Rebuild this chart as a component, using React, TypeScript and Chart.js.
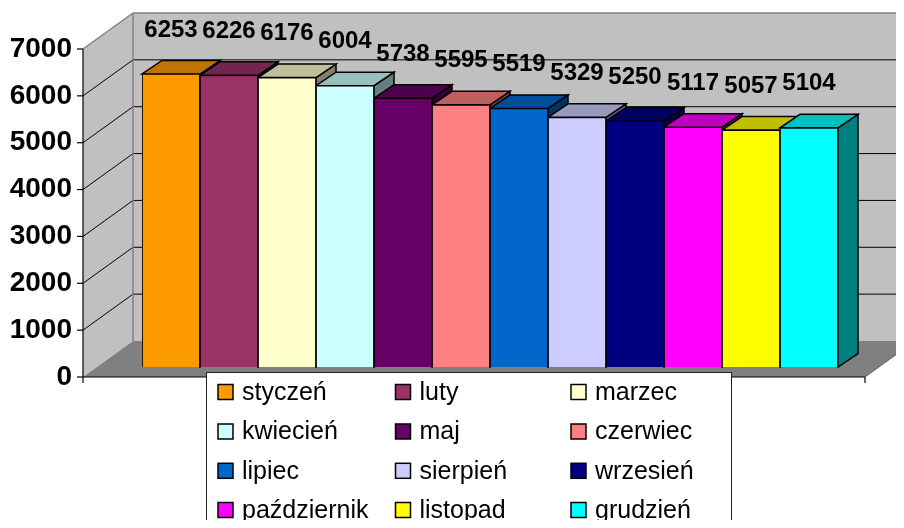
import React, { useEffect, useRef } from "react";
import { Chart, registerables } from "chart.js";

Chart.register(...registerables);

// ---- data ----
const months = [
  "styczeń", "luty", "marzec", "kwiecień", "maj", "czerwiec",
  "lipiec", "sierpień", "wrzesień", "październik", "listopad", "grudzień",
];
const values = [6253, 6226, 6176, 6004, 5738, 5595, 5519, 5329, 5250, 5117, 5057, 5104];
const colors = [
  "#FF9900", "#993366", "#FFFFCC", "#CCFFFF", "#660066", "#FF8080",
  "#0066CC", "#CCCCFF", "#000080", "#FF00FF", "#FFFF00", "#00FFFF",
];
const yMin = 0;
const yMax = 7000;
const yStep = 1000;

// ---- styling constants ----
const FONT = "'Liberation Sans', Arial, sans-serif";
const WALL = { dx: 50, dy: -36 }; // full depth of the 3D box
const BAR_OFF = { dx: 14, dy: -10 }; // bar front relative to the front plane
const BAR_D = { dx: 20, dy: -13.5 }; // bar depth
const GAP_L = 45;
const GAP_R = 41;

function shade(hex: string, k: number) {
  const n = parseInt(hex.slice(1), 16);
  const r = Math.round(((n >> 16) & 255) * k);
  const g = Math.round(((n >> 8) & 255) * k);
  const b = Math.round((n & 255) * k);
  return `rgb(${r},${g},${b})`;
}

function poly(ctx: CanvasRenderingContext2D, pts: number[][], fill?: string, stroke?: string, lw = 1) {
  ctx.beginPath();
  ctx.moveTo(pts[0][0], pts[0][1]);
  for (let i = 1; i < pts.length; i++) ctx.lineTo(pts[i][0], pts[i][1]);
  ctx.closePath();
  if (fill) {
    ctx.fillStyle = fill;
    ctx.fill();
  }
  if (stroke) {
    ctx.strokeStyle = stroke;
    ctx.lineWidth = lw;
    ctx.stroke();
  }
}

function line(ctx: CanvasRenderingContext2D, x1: number, y1: number, x2: number, y2: number, color: string, lw = 1) {
  ctx.beginPath();
  ctx.moveTo(x1, y1);
  ctx.lineTo(x2, y2);
  ctx.strokeStyle = color;
  ctx.lineWidth = lw;
  ctx.stroke();
}

const threeD = {
  id: "threeD",
  beforeDatasetsDraw(chart: any) {
    const { ctx, chartArea: ca } = chart;
    const y = chart.scales.y;
    const fy = (v: number) => y.getPixelForValue(v) - BAR_OFF.dy;
    const fx0 = ca.left - BAR_OFF.dx - GAP_L;
    const fx1 = ca.right - BAR_OFF.dx + GAP_R;
    const bx0 = fx0 + WALL.dx;
    const bx1 = fx1 + WALL.dx;
    const f0 = fy(yMin);
    const fTop = fy(yMax);
    ctx.save();
    ctx.lineJoin = "miter";
    // back wall
    poly(ctx, [[bx0, fTop + WALL.dy], [bx1, fTop + WALL.dy], [bx1, f0 + WALL.dy], [bx0, f0 + WALL.dy]], "#C0C0C0");
    // left wall
    poly(ctx, [[fx0, fTop], [bx0, fTop + WALL.dy], [bx0, f0 + WALL.dy], [fx0, f0]], "#C0C0C0");
    // floor
    poly(ctx, [[fx0, f0], [fx1, f0], [bx1, f0 + WALL.dy], [bx0, f0 + WALL.dy]], "#808080");
    // gridlines
    for (let v = yMin + yStep; v < yMax; v += yStep) {
      const p = fy(v);
      line(ctx, bx0, p + WALL.dy, bx1, p + WALL.dy, "#000", 1);
      line(ctx, fx0, p, bx0, p + WALL.dy, "#000", 1);
    }
    // wall edges
    line(ctx, fx0, fTop, bx0, fTop + WALL.dy, "#808080", 1.5);
    line(ctx, bx0, fTop + WALL.dy, bx1, fTop + WALL.dy, "#808080", 1.5);
    line(ctx, bx0, fTop + WALL.dy, bx0, f0 + WALL.dy, "#808080", 1.5);
    line(ctx, fx1, f0, bx1, f0 + WALL.dy, "#606060", 1);
    // front axes
    line(ctx, fx0, fTop, fx0, f0, "#000", 1.2);
    line(ctx, fx0, f0, fx1, f0, "#000", 1.2);
    for (let v = yMin; v <= yMax; v += yStep) {
      const p = fy(v);
      line(ctx, fx0 - 6, p, fx0, p, "#000", 1.2);
    }
    line(ctx, fx0, f0, fx0, f0 + 6, "#000", 1.2);
    line(ctx, fx1, f0, fx1, f0 + 6, "#000", 1.2);

    // bar sides and tops
    const meta = chart.getDatasetMeta(0);
    const els = meta.data.map((el: any) => el.getProps(["x", "y", "base", "width"], true));
    els.forEach((e: any, i: number) => {
      const x2 = e.x + e.width / 2;
      poly(ctx, [[x2, e.y], [x2 + BAR_D.dx, e.y + BAR_D.dy], [x2 + BAR_D.dx, e.base + BAR_D.dy], [x2, e.base]],
        shade(colors[i], 0.5), "#000", 1.5);
    });
    els.forEach((e: any, i: number) => {
      const x1 = e.x - e.width / 2;
      const x2 = e.x + e.width / 2;
      poly(ctx, [[x1, e.y], [x2, e.y], [x2 + BAR_D.dx, e.y + BAR_D.dy], [x1 + BAR_D.dx, e.y + BAR_D.dy]],
        shade(colors[i], 0.75), "#000", 1.5);
    });
    ctx.restore();
  },
  afterDatasetsDraw(chart: any) {
    const { ctx } = chart;
    const meta = chart.getDatasetMeta(0);
    ctx.save();
    // value labels
    ctx.font = `bold 24px ${FONT}`;
    ctx.fillStyle = "#000";
    ctx.textAlign = "center";
    ctx.textBaseline = "middle";
    meta.data.forEach((el: any, i: number) => {
      const p = el.getProps(["x", "y"], true);
      ctx.fillText(String(values[i]), p.x, p.y - 44);
    });

    // legend
    const lx = 198, ly = 364, lw = 525;
    ctx.fillStyle = "#FFF";
    ctx.fillRect(lx, ly, lw, 200);
    ctx.strokeStyle = "#222";
    ctx.lineWidth = 1;
    ctx.strokeRect(lx + 0.5, ly + 0.5, lw, 200);
    const colX = [210, 387.5, 563];
    const rowY = [384, 423.5, 462.8, 502];
    ctx.font = `25px ${FONT}`;
    ctx.textAlign = "left";
    ctx.textBaseline = "middle";
    months.forEach((m, i) => {
      const cx = colX[i % 3];
      const cy = rowY[Math.floor(i / 3)];
      ctx.fillStyle = colors[i];
      ctx.fillRect(cx, cy - 7.5, 15, 15);
      ctx.strokeStyle = "#000";
      ctx.lineWidth = 1.5;
      ctx.strokeRect(cx, cy - 7.5, 15, 15);
      ctx.fillStyle = "#000";
      ctx.fillText(m, cx + 24, cy + 1);
    });
    ctx.restore();
  },
};

export default function App() {
  const ref = useRef<HTMLCanvasElement>(null);
  useEffect(() => {
    if (!ref.current) return;
    const chart = new Chart(ref.current, {
      type: "bar",
      data: {
        labels: months,
        datasets: [
          {
            data: values,
            backgroundColor: colors,
            borderColor: "#000",
            borderWidth: 1.2,
            categoryPercentage: 1,
            barPercentage: 1,
          },
        ],
      },
      options: {
        animation: false,
        responsive: false,
        layout: { padding: { left: 0, right: 58, top: 31, bottom: 153 } },
        plugins: { legend: { display: false }, tooltip: { enabled: false } },
        scales: {
          x: { display: false },
          y: {
            min: yMin,
            max: yMax,
            ticks: {
              stepSize: yStep,
              color: "#000",
              font: { family: FONT, size: 28, weight: "bold" },
              padding: 70,
              labelOffset: 10,
              callback: (v: any) => String(v),
            },
            grid: { display: false, drawTicks: false },
            border: { display: false },
            afterFit(s: any) {
              s.width = 134;
              s.paddingTop = 0;
              s.paddingBottom = 0;
            },
          },
        },
      },
      plugins: [threeD],
    });
    return () => chart.destroy();
  }, []);
  return (
    <div style={{ width: 888, height: 512 }}>
      <canvas ref={ref} width={888} height={512} />
    </div>
  );
}
